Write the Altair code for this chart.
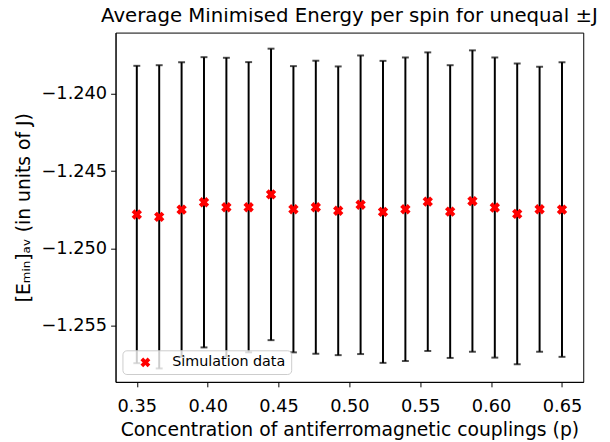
import altair as alt
import pandas as pd

p = [0.35, 0.3658, 0.3816, 0.3974, 0.4132, 0.4289, 0.4447, 0.4605, 0.4763, 0.4921,
     0.5079, 0.5237, 0.5395, 0.5553, 0.5711, 0.5868, 0.6026, 0.6184, 0.6342, 0.65]
mean_e = [-1.24781, -1.24796, -1.24749, -1.24702, -1.24734, -1.24734, -1.24651, -1.24747,
          -1.24734, -1.24757, -1.24718, -1.24764, -1.24747, -1.24698, -1.24762, -1.24694,
          -1.24736, -1.24777, -1.24747, -1.24749]
err_e = [0.00962, 0.00981, 0.00953, 0.00939, 0.00967, 0.00939, 0.00943, 0.00926, 0.00948,
         0.00934, 0.00966, 0.00977, 0.00982, 0.00966, 0.00947, 0.00975, 0.00971, 0.00973,
         0.00922, 0.00953]
x_ticks = [0.35, 0.40, 0.45, 0.50, 0.55, 0.60, 0.65]
y_ticks = [-1.255, -1.250, -1.245, -1.240]

df = pd.DataFrame({"p": p, "mean": mean_e, "err": err_e})

XPATH = ("M-1,-0.45L-0.45,-1L0,-0.55L0.45,-1L1,-0.45L0.55,0L1,0.45L0.45,1L0,0.55"
         "L-0.45,1L-1,0.45L-0.55,0Z")

base = alt.Chart(df).transform_calculate(
    lo="datum.mean - datum.err",
    hi="datum.mean + datum.err",
    series="'Simulation data'",
)

xs = alt.Scale(domain=[0.335, 0.665], nice=False, zero=False)
ys = alt.Scale(domain=[-1.25864, -1.23604], nice=False, zero=False)

xaxis = alt.Axis(values=x_ticks, format=".2f", labelPadding=11, titlePadding=5,
                 title="Concentration of antiferromagnetic couplings (p)")
yaxis = alt.Axis(values=y_ticks, format=".3f", titlePadding=8,
                 title="[Eₘᵢₙ]ₐᵥ (in units of J)")

rules = base.mark_rule(color="black", strokeWidth=2).encode(
    x=alt.X("p:Q", scale=xs, axis=xaxis),
    y=alt.Y("lo:Q", scale=ys, axis=yaxis),
    y2="hi:Q",
)
cap_lo = base.mark_tick(color="black", orient="horizontal", size=7, thickness=2).encode(
    x="p:Q", y="lo:Q")
cap_hi = base.mark_tick(color="black", orient="horizontal", size=7, thickness=2).encode(
    x="p:Q", y="hi:Q")

points = base.mark_point(filled=True, shape=XPATH, size=110, opacity=1).encode(
    x="p:Q",
    y="mean:Q",
    color=alt.Color(
        "series:N",
        scale=alt.Scale(range=["#ff0000"]),
        legend=alt.Legend(
            title=None,
            orient="none",
            legendX=7,
            legendY=322,
            symbolType=XPATH,
            symbolSize=100,
            symbolFillColor="#ff0000",
            symbolStrokeWidth=0,
            symbolOffset=11,
            labelFontSize=14.5,
            labelFont="DejaVu Sans",
            labelColor="black",
            labelOffset=20,
            padding=5,
            fillColor="rgba(255,255,255,0.8)",
            strokeColor="#cccccc",
            cornerRadius=4,
        ),
    ),
)

chart = alt.layer(rules, cap_lo, cap_hi, points).properties(
    width=474,
    height=354,
    padding={"left": 109, "top": 22, "right": 19, "bottom": 58},
    autosize=alt.AutoSizeParams(type="none"),
    title=alt.TitleParams(
        "Average Minimised Energy per spin for unequal ±J",
        font="DejaVu Sans", fontSize=20, fontWeight="normal", color="black",
        anchor="middle", offset=7,
    ),
).configure_view(
    stroke="black", strokeWidth=1
).configure_axis(
    grid=False,
    domainColor="black",
    tickColor="black",
    tickSize=5,
    labelFont="DejaVu Sans",
    labelFontSize=18,
    labelColor="black",
    labelPadding=4,
    titleFont="DejaVu Sans",
    titleFontSize=19,
    titleFontWeight="normal",
    titleColor="black",
)

chart.save("out.html", embed_options={"renderer": "svg", "actions": False})
